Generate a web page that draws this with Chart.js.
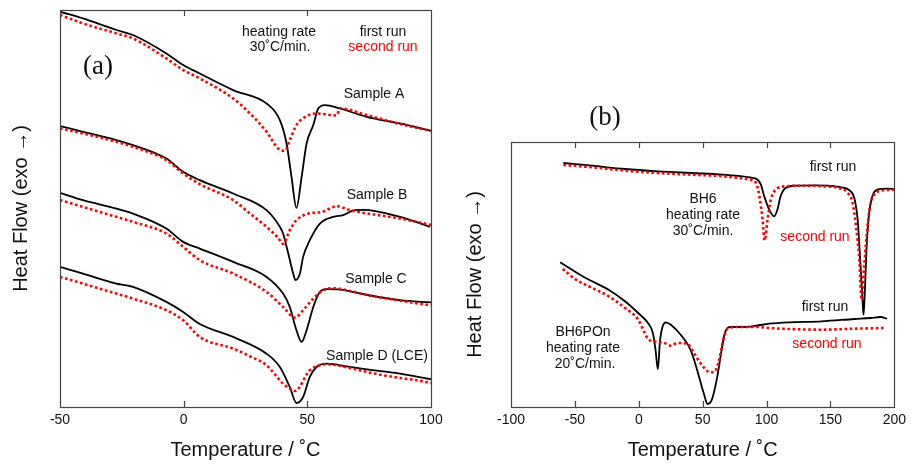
<!DOCTYPE html>
<html><head><meta charset="utf-8">
<script src="https://cdn.jsdelivr.net/npm/chart.js@4.4.1/dist/chart.umd.min.js"></script>
<style>
html,body{margin:0;padding:0;background:#fff;}
#wrap{position:relative;width:911px;height:464px;overflow:hidden;background:#fff;}
canvas{position:absolute;top:0;}
#ca{left:0;} #cb{left:455px;}
</style></head><body>
<div id="wrap"><canvas id="ca" width="455" height="464"></canvas><canvas id="cb" width="456" height="464"></canvas></div>
<script>
// ---------- Panel (a) data : temperature (°C) and heat flow (a.u.) ----------
const tA1 = [-50,-40.7,-27.2,-20.5,-7.0,-0.2,6.5,20.0,33.5,38.9,41.6,43.6,45.6,47.7,49.7,52.4,54.4,57.1,63.2,74.0,87.5,100];
const hA1 = [39.5,38.83,37.67,37.17,35.33,34.17,33.33,31.67,30.33,28.67,26.33,23.0,19.9,23.0,26.33,28.17,29.83,30.17,29.83,29.0,28.33,27.6];
const tA2 = [-50,-40.7,-27.2,-20.5,-7.0,-0.2,6.5,20.0,26.8,33.5,38.2,40.9,42.9,45.6,49.7,53.7,61.8,63.2,74.0,87.5,100];
const hA2 = [39.17,38.33,37.33,36.83,34.83,33.67,32.83,30.83,29.33,27.5,25.83,25.6,26.67,28.17,29.07,29.33,29.13,29.83,29.17,28.27,27.6];

const tB1 = [-50,-40.7,-27.2,-20.5,-7.0,-0.2,6.5,20.0,33.5,38.9,40.2,42.3,44.3,45.2,47.0,48.3,51.0,55.1,60.5,64.5,69.2,72.6,87.5,99.6];
const hB1 = [28.07,27.5,26.67,26.17,24.83,23.5,22.67,21.33,19.67,18.0,17.33,15.33,13.33,12.67,13.33,15.0,16.67,18.33,19.0,19.17,19.67,19.7,19.0,18.0];
const tB2 = [-50,-40.7,-27.2,-20.5,-7.0,-0.2,6.5,20.0,26.8,33.5,38.2,40.2,42.9,45.6,49.7,56.4,59.1,61.8,67.2,87.5,100];
const hB2 = [27.83,27.33,26.5,26.0,24.67,23.33,22.27,20.67,19.33,18.0,16.9,16.3,17.67,18.67,19.27,19.53,19.83,20.07,19.67,18.83,18.2];

const tC1 = [-50,-40.7,-27.2,-20.5,-7.0,-0.2,6.5,20.0,33.5,40.2,42.9,45.6,47.7,49.7,52.4,55.1,57.8,63.2,74.0,87.5,100];
const hC1 = [21.4,20.67,19.83,19.33,17.83,16.5,15.83,14.5,13.0,11.33,10.0,7.67,6.5,7.67,10.0,11.5,11.77,11.73,11.2,10.67,10.45];
const tC2 = [-50,-40.7,-27.2,-20.5,-7.0,-0.2,6.5,20.0,33.5,40.2,45.0,48.3,52.4,56.4,60.5,67.2,74.0,87.5,100];
const hC2 = [20.67,20.0,19.0,18.5,17.33,16.0,14.67,13.33,11.5,10.0,8.93,9.67,10.83,11.67,11.87,11.6,11.2,10.63,10.15];

const tD1 = [-50,-40.7,-27.2,-20.5,-7.0,-0.2,6.5,20.0,33.5,38.9,42.9,45.6,48.3,51.0,53.7,57.8,67.2,74.0,80.7,87.5,100];
const hD1 = [14.0,13.33,12.33,12.0,10.5,9.5,8.3,7.0,5.33,4.0,2.0,0.4,1.0,3.0,4.0,4.33,4.0,3.77,3.55,3.33,2.77];
const tD2 = [-50,-40.7,-27.2,-20.5,-7.0,-0.2,6.5,20.0,26.8,33.5,40.2,42.9,45.0,51.0,55.1,57.8,67.2,74.0,80.7,87.5,94.2,100];
const hD2 = [13.0,12.33,11.33,10.83,9.67,8.67,7.0,5.83,5.07,4.17,2.33,1.83,1.6,3.67,4.17,4.27,3.9,3.5,3.17,2.9,2.67,2.4];

// ---------- Panel (b) data ----------
const tBH1 = [-59.0,-36.4,-10.8,14.9,40.5,66.2,86.7,93.1,95.6,98.2,102.1,105.9,108.5,111.0,114.9,122.6,137.9,148.2,158.5,164.9,168.7,171.3,173.3,175.1,175.9,176.9,178.2,180.3,182.8,186.7,194.4,200];
const hBH1 = [24.4,24.13,23.8,23.57,23.4,23.23,22.97,22.73,22.23,21.07,19.73,19.07,19.73,21.07,21.9,22.13,22.17,22.13,21.97,21.67,20.9,18.73,14.73,10.73,9.23,11.4,15.73,19.4,21.07,21.73,21.83,21.8];
const tBH2 = [-59.0,-36.4,-10.8,14.9,40.5,66.2,86.7,91.8,94.4,96.9,98.5,100.8,103.3,107.2,114.9,130.3,143.1,155.9,163.6,167.4,170.0,172.6,174.4,176.4,179.0,181.5,185.4,191.8,200];
const hBH2 = [24.2,23.97,23.63,23.4,23.23,23.07,22.73,22.4,21.07,18.73,16.67,18.73,20.73,21.73,22.07,22.13,22.07,21.9,21.4,20.4,18.07,14.73,10.73,14.07,18.07,20.4,21.4,21.67,21.73];

const tPO1 = [-61.5,-54.4,-41.5,-23.6,-10.8,-0.5,7.2,11.0,13.1,14.9,16.7,18.7,21.3,25.1,32.8,40.5,45.6,50.8,53.8,57.2,61.0,64.9,67.4,71.3,81.5,91.8,102.1,117.4,143.1,168.7,181.5,189.2,194.4];
const hPO1 = [14.47,13.9,12.9,11.73,10.57,9.4,8.4,7.4,5.73,3.8,6.73,8.07,8.47,8.23,7.23,5.73,3.73,1.4,0.3,0.73,2.73,5.73,7.4,8.0,8.0,8.13,8.33,8.47,8.57,8.8,8.9,9.0,8.83];
const tPO2 = [-59.5,-49.2,-36.4,-23.6,-10.8,-0.5,4.6,7.2,12.3,20.0,25.1,30.3,37.9,43.1,48.2,55.9,58.5,62.3,66.2,70.0,79.0,91.8,104.6,117.4,143.1,168.7,193.1];
const hPO2 = [13.8,12.73,11.9,11.07,9.9,8.73,7.4,6.8,6.57,6.4,6.13,6.4,6.33,5.4,4.4,3.47,3.47,4.4,6.73,7.9,8.0,8.0,7.87,7.8,7.73,7.83,7.9];

const ticksA = [-50, 0, 50, 100];
const ticksB = [-100, -50, 0, 50, 100, 150, 200];

const pts = (t, h) => t.map((v, i) => ({x: v, y: h[i]}));
const black = (t, h) => ({data: pts(t, h), borderColor: '#000', borderWidth: 1.8, pointRadius: 0, cubicInterpolationMode: 'monotone', order: 1, fill: false});
const red = (t, h) => ({data: pts(t, h), borderColor: '#ff0000', borderWidth: 2.6, borderDash: [2.6, 2.6], borderCapStyle: 'butt', pointRadius: 0, cubicInterpolationMode: 'monotone', order: 0, fill: false});

const framePlugin = {
  id: 'frame',
  afterDatasetsDraw(chart) {
    const {ctx, chartArea: a, scales: {x}} = chart;
    ctx.save();
    ctx.strokeStyle = '#444'; ctx.lineWidth = 1.2;
    ctx.strokeRect(Math.round(a.left) + 0.5, Math.round(a.top) + 0.5, Math.round(a.right - a.left), Math.round(a.bottom - a.top));
    x.ticks.forEach(t => {
      const px = Math.round(x.getPixelForValue(t.value)) + 0.5;
      if (px <= a.left + 2 || px >= a.right - 2) return;
      ctx.beginPath();
      ctx.moveTo(px, a.bottom); ctx.lineTo(px, a.bottom - 6);
      ctx.moveTo(px, a.top); ctx.lineTo(px, a.top + 6);
      ctx.stroke();
    });
    ctx.restore();
  }
};
const notesPlugin = {
  id: 'notes',
  afterDraw(chart, args, opts) {
    const ctx = chart.ctx;
    ctx.save();
    ctx.textAlign = 'center'; ctx.textBaseline = 'middle';
    (opts.items || []).forEach(n => {
      ctx.font = n.font || '14px "Liberation Sans", Arial, sans-serif';
      ctx.fillStyle = n.color || '#111';
      ctx.fillText(n.text, n.x, n.y);
    });
    ctx.restore();
  }
};
const SANS = '"Liberation Sans", Arial, sans-serif';
const SERIF = '27px "Liberation Serif", "Times New Roman", serif';

function makeChart(id, datasets, xmin, xmax, ymax, tickVals, pad, yWidth, yTitlePad, notes) {
  return new Chart(document.getElementById(id), {
    type: 'line',
    data: {datasets},
    plugins: [framePlugin, notesPlugin],
    options: {
      responsive: false, animation: false, devicePixelRatio: 1,
      layout: {padding: pad},
      plugins: {legend: {display: false}, tooltip: {enabled: false}, notes: {items: notes}},
      scales: {
        x: {
          type: 'linear', min: xmin, max: xmax,
          afterBuildTicks: s => { s.ticks = tickVals.map(v => ({value: v})); },
          ticks: {color: '#111', font: {size: 14, family: SANS}, padding: 5, maxRotation: 0, autoSkip: false},
          grid: {display: false, drawTicks: false},
          border: {display: false},
          title: {display: true, text: 'Temperature / ˚C', color: '#111', font: {size: 20, family: SANS}, padding: {top: 0, bottom: 2}},
          afterFit: s => { s.height = 57; }
        },
        y: {
          type: 'linear', min: 0, max: ymax,
          ticks: {display: false},
          grid: {display: false, drawTicks: false},
          border: {display: false},
          title: {display: true, text: 'Heat Flow (exo →)', color: '#111', font: {size: 20, family: SANS}, padding: {top: yTitlePad, bottom: 0}},
          afterFit: s => { s.width = yWidth; }
        }
      }
    }
  });
}

makeChart('ca', [
  black(tA1, hA1), red(tA2, hA2),
  black(tB1, hB1), red(tB2, hB2),
  black(tC1, hC1), red(tC2, hC2),
  black(tD1, hD1), red(tD2, hD2)
], -50, 100, 39.67, ticksA, {left: 0, right: 24, top: 10, bottom: 0}, 60, 9, [
  {text: 'heating rate', x: 279, y: 32},
  {text: '30˚C/min.', x: 280, y: 47},
  {text: 'first run', x: 383, y: 32},
  {text: 'second run', x: 383, y: 47, color: '#ff0000'},
  {text: '(a)', x: 98, y: 67, font: SERIF},
  {text: 'Sample A', x: 374, y: 94},
  {text: 'Sample B', x: 377, y: 195},
  {text: 'Sample C', x: 376, y: 279},
  {text: 'Sample D (LCE)', x: 377, y: 356}
]);

makeChart('cb', [
  black(tBH1, hBH1), red(tBH2, hBH2),
  black(tPO1, hPO1), red(tPO2, hPO2)
], -100, 200, 26.5, ticksB, {left: 0, right: 10, top: 142, bottom: 0}, 56, 8, [
  {text: '(b)', x: 150, y: 118, font: SERIF},
  {text: 'first run', x: 378, y: 167},
  {text: 'BH6', x: 248, y: 199},
  {text: 'heating rate', x: 248, y: 215},
  {text: '30˚C/min.', x: 248, y: 231},
  {text: 'second run', x: 360, y: 237, color: '#ff0000'},
  {text: 'first run', x: 370, y: 307},
  {text: 'BH6POn', x: 128, y: 332},
  {text: 'heating rate', x: 128, y: 348},
  {text: '20˚C/min.', x: 130, y: 364},
  {text: 'second run', x: 372, y: 344, color: '#ff0000'}
]);
</script></body></html>
